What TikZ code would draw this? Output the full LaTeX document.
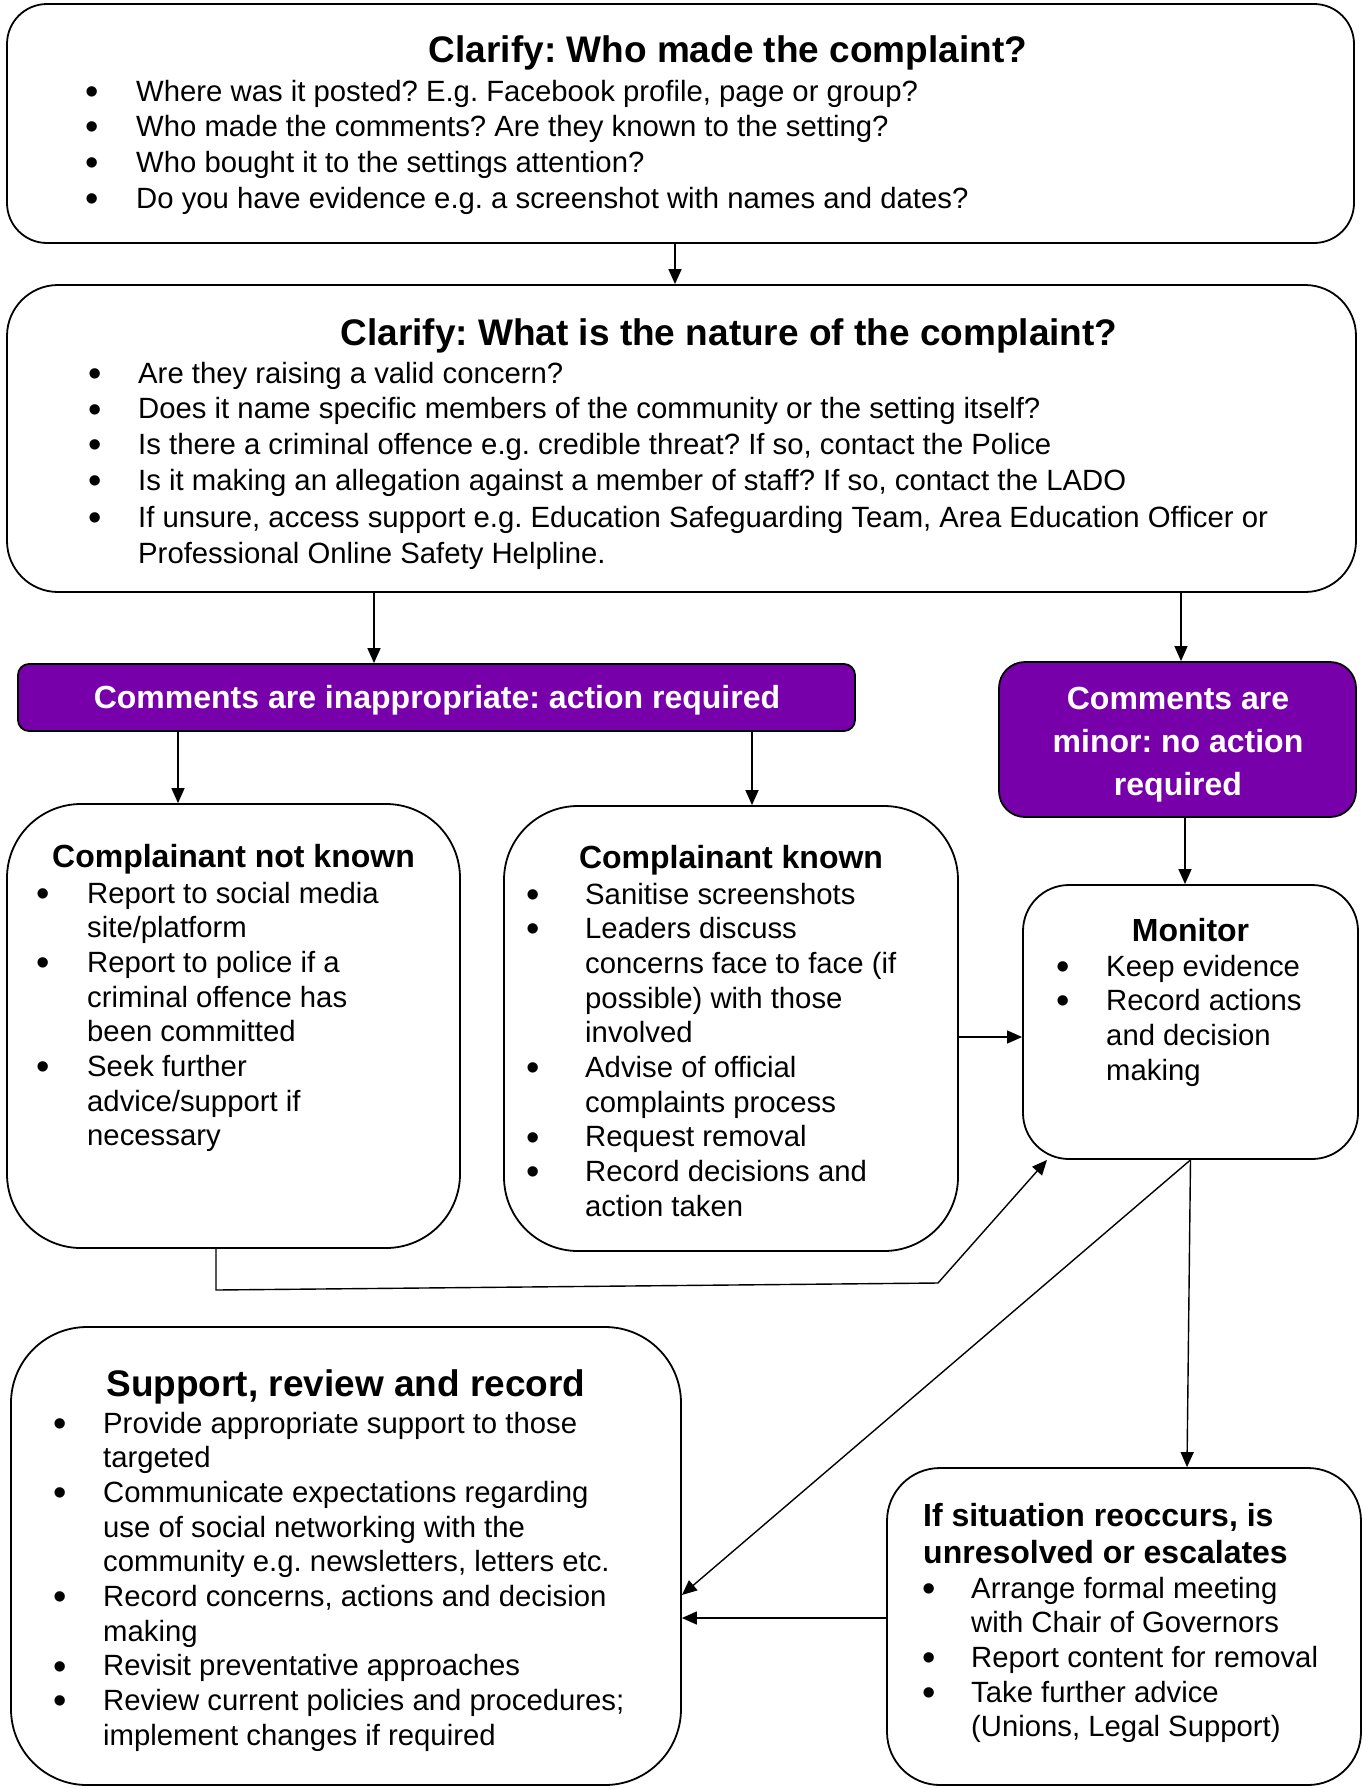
\documentclass[tikz,border=0pt]{standalone}
\usepackage{fontspec}
\setmainfont{Liberation Sans}
\usetikzlibrary{arrows.meta,positioning,calc}
\definecolor{flowpurple}{RGB}{120,0,170}
\frenchspacing
\newcommand{\bodyfont}{\fontsize{29.3}{34.7}\selectfont}
\newcommand{\blist}[2]{\begin{tabular}[t]{@{}p{#1}@{}l@{}}#2\end{tabular}}
\newcommand{\bl}{\hspace{-1.5pt}\raisebox{-3.2pt}{\scalebox{1.3}{\textbullet}}}
\tikzstyle{frame} = [draw=black, line width=1.8pt, fill=white, inner sep=0pt]
\tikzstyle{purplebox} = [frame, fill=flowpurple]
\tikzstyle{flow} = [line width=1.4pt,-{Triangle[length=15pt,width=13pt]}]
\tikzstyle{head} = [inner sep=0pt, anchor=base, font=\fontsize{37}{42}\selectfont\bfseries]
\tikzstyle{subhead} = [inner sep=0pt, anchor=base, font=\fontsize{32}{37}\selectfont\bfseries]
\tikzstyle{body} = [inner sep=0pt, anchor=base west, font=\bodyfont]

\begin{document}
\begin{tikzpicture}[x=1pt,y=-1pt]
\useasboundingbox (0,0) rectangle (1363,1789);
% boxes
\draw (680.5,123.5) node (who) [frame, rounded corners=40pt, minimum width=1347pt, minimum height=239pt] {};
\draw (681.5,438.5) node (nature) [frame, rounded corners=51pt, minimum width=1349pt, minimum height=307pt] {};
\draw (436.5,697.5) node (inapt) [purplebox, rounded corners=11pt, minimum width=837pt, minimum height=67pt] {};
\draw (1177.5,739.5) node (minor) [purplebox, rounded corners=26pt, minimum width=357pt, minimum height=155pt] {};
\draw (233.5,1026) node (unknown) [frame, rounded corners=74pt, minimum width=453pt, minimum height=444pt] {};
\draw (731,1028.5) node (known) [frame, rounded corners=74pt, minimum width=454pt, minimum height=445pt] {};
\draw (1190.5,1022) node (monitor) [frame, rounded corners=46pt, minimum width=335pt, minimum height=274pt] {};
\draw (346,1556) node (support) [frame, rounded corners=76pt, minimum width=670pt, minimum height=458pt] {};
\draw (1124,1626.5) node (reoccur) [frame, rounded corners=53pt, minimum width=474pt, minimum height=317pt] {};
%
% texts
\node (whoT) [head] at (728,62) {Clarify: Who made the complaint?};
\node (whoL) [body, font=\fontsize{29.3}{35.7}\selectfont] at (87,101) {\blist{49pt}{%
\bl & Where was it posted? E.g. Facebook profile, page or group?\\
\bl & Who made the comments? Are they known to the setting?\\
\bl & Who bought it to the settings attention?\\
\bl & Do you have evidence e.g. a screenshot with names and dates?}};
\node (natureT) [head] at (729,345) {Clarify: What is the nature of the complaint?};
\node (natureL) [body, font=\fontsize{29.3}{35.8}\selectfont] at (90,383) {\blist{48pt}{%
\bl & Are they raising a valid concern?\\
\bl & Does it name specific members of the community or the setting itself?\\
\bl & Is there a criminal offence e.g. credible threat? If so, contact the Police\\
\bl & Is it making an allegation against a member of staff? If so, contact the LADO\\[1.5pt]
\bl & If unsure, access support e.g. Education Safeguarding Team, Area Education Officer or\\
 & Professional Online Safety Helpline.}};
\node (inaptT) [subhead, text=white] at (437,708) {Comments are inappropriate: action required};
\node (minorT) [subhead, text=white, font=\fontsize{32}{43}\selectfont\bfseries] at (1178,709) {\begin{tabular}[t]{@{}c@{}}Comments are\\ minor: no action\\ required\end{tabular}};
\node (unknownT) [subhead] at (233.5,867) {Complainant not known};
\node (unknownL) [body] at (38,903) {\blist{49pt}{%
\bl & Report to social media\\
 & site/platform\\
\bl & Report to police if a\\
 & criminal offence has\\
 & been committed\\
\bl & Seek further\\
 & advice/support if\\
 & necessary}};
\node (knownT) [subhead] at (731,868) {Complainant known};
\node (knownL) [body] at (528,904) {\blist{57pt}{%
\bl & Sanitise screenshots\\
\bl & Leaders discuss\\
 & concerns face to face (if\\
 & possible) with those\\
 & involved\\
\bl & Advise of official\\
 & complaints process\\
\bl & Request removal\\
\bl & Record decisions and\\
 & action taken}};
\node (monitorT) [subhead] at (1190.5,941) {Monitor};
\node (monitorL) [body] at (1058,976) {\blist{48pt}{%
\bl & Keep evidence\\
\bl & Record actions\\
 & and decision\\
 & making}};
\node (supportT) [head] at (346,1396) {Support, review and record};
\node (supportL) [body] at (55,1433) {\blist{48pt}{%
\bl & Provide appropriate support to those\\
 & targeted\\
\bl & Communicate expectations regarding\\
 & use of social networking with the\\
 & community e.g. newsletters, letters etc.\\
\bl & Record concerns, actions and decision\\
 & making\\
\bl & Revisit preventative approaches\\
\bl & Review current policies and procedures;\\
 & implement changes if required}};
\node (reoccurT) [subhead, anchor=base west] at (923,1526) {\begin{tabular}[t]{@{}l@{}}If situation reoccurs, is\\ unresolved or escalates\end{tabular}};
\node (reoccurL) [body] at (924,1598) {\blist{47pt}{%
\bl & Arrange formal meeting\\
 & with Chair of Governors\\
\bl & Report content for removal\\
\bl & Take further advice\\
 & (Unions, Legal Support)}};
%
% connectors
\coordinate (bendA) at (216,1290);
\coordinate (bendB) at (938,1283);
\draw[flow] (675,0 |- who.south) -- (675,0 |- nature.north);
\draw[flow] (374,0 |- nature.south) -- (374,0 |- inapt.north);
\draw[flow] (1181,0 |- nature.south) -- (1181,0 |- minor.north);
\draw[flow] (178,0 |- inapt.south) -- (178,0 |- unknown.north);
\draw[flow] (752,0 |- inapt.south) -- (752,0 |- known.north);
\draw[flow] (1185,0 |- minor.south) -- (1185,0 |- monitor.north);
\draw[flow] (known.east |- 0,1037) -- (monitor.west |- 0,1037);
\draw[flow] (216,0 |- unknown.south) -- (bendA) -- (bendB) -- (1047,0 |- monitor.south);
\draw[flow] (monitor.south) -- (support.east |- 0,1595);
\draw[flow] (monitor.south) -- (1187,0 |- reoccur.north);
\draw[flow] (reoccur.west |- 0,1618) -- (support.east |- 0,1618);
\end{tikzpicture}
\end{document}
